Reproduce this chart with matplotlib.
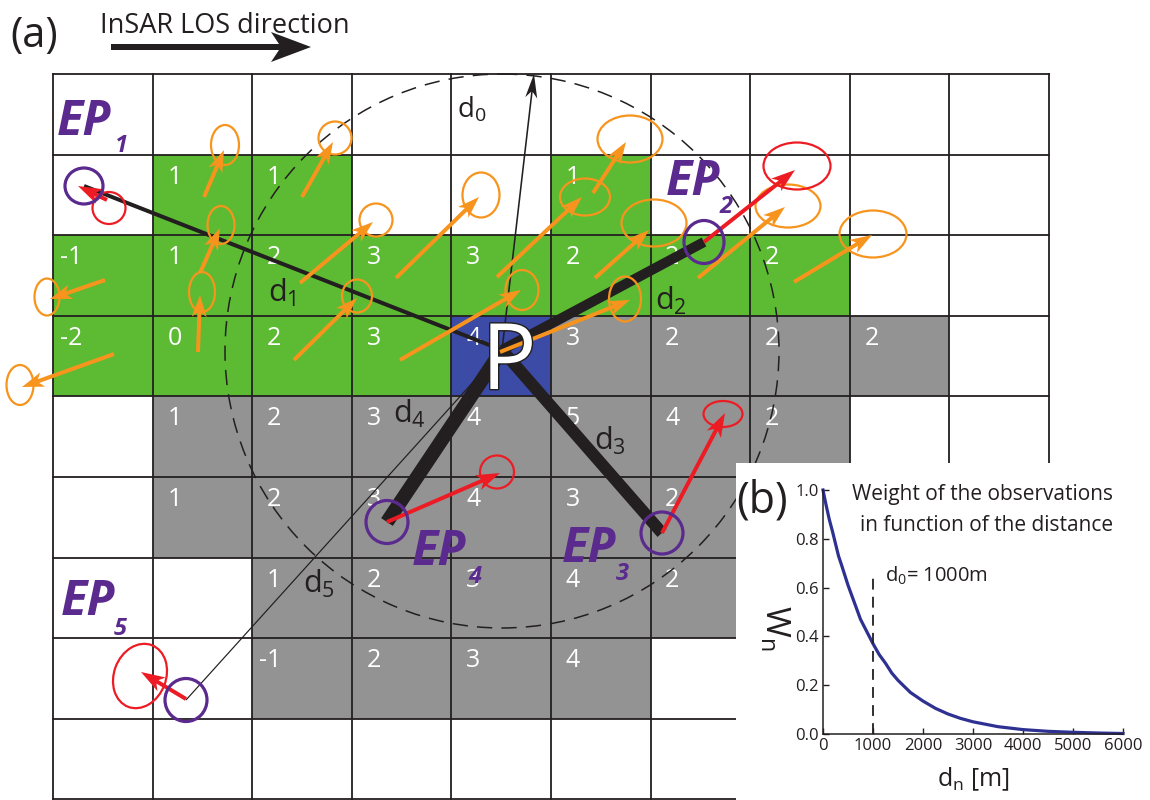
import matplotlib
matplotlib.use("Agg")
import matplotlib.pyplot as plt
import matplotlib.patches as mpatches
import matplotlib.patheffects as pe

plt.rcParams['font.family'] = ['Open Sans', 'DejaVu Sans']
plt.rcParams['mathtext.default'] = 'regular'

# ---- grid of pixels (a) ----
GRID_X0, GRID_Y0 = 53, 74
CELL_W, CELL_H = 99.6, 80.6
N_COLS, N_ROWS = 10, 9

# g = green, s = grey, b = blue (point P), w = white
cell_kind = [
    "wwwwwwwwww",
    "wggwwgwwww",
    "ggggggggww",
    "ggggbssssw",
    "wsssssssww",
    "wsssssssww",
    "wwssssssww",
    "wwsssswwww",
    "wwwwwwwwww",
]
cell_value = [
    [None] * 10,
    [None, 1, 1, None, None, 1, None, None, None, None],
    [-1, 1, 2, 3, 3, 2, 2, 2, None, None],
    [-2, 0, 2, 3, 4, 3, 2, 2, 2, None],
    [None, 1, 2, 3, 4, 5, 4, 2, None, None],
    [None, 1, 2, 3, 4, 3, 2, None, None, None],
    [None, None, 1, 2, 3, 4, 2, None, None, None],
    [None, None, -1, 2, 3, 4, None, None, None, None],
    [None] * 10,
]

# point P and neighbourhood radius
p_xy = (502, 350)
d0_radius = 277
d0_tip = (534, 74)

# external points EP1..EP5
ep_names = ["1", "2", "3", "4", "5"]
ep_xy = [(84, 186), (704, 242), (662, 533), (387, 522), (186, 700)]
ep_size = [(38, 36), (40, 43), (42, 42), (42, 43), (42, 43)]
ep_label_xy = [(57, 135), (666, 195), (562, 562), (412, 565), (61, 615)]
ep_sub_xy = [(115, 152), (720, 213), (616, 580), (468, 583), (114, 635)]
link_px = [4, 10, 12, 14, 1.2]
d_labels = ["1", "2", "3", "4", "5", "0"]
d_label_xy = [(268, 302), (655, 310), (594, 450), (393, 423), (303, 593), (457, 117)]

# displacement vectors of the EP (red) and of the pixels (orange)
red_tail = [(107, 200), (704, 242), (662, 533), (387, 522), (186, 699)]
red_head = [(78, 186), (795, 170), (725, 413), (500, 473), (141, 672)]
red_ell = [(109, 208, 33, 32, 0), (797, 166, 67, 47, 0), (723, 414, 39, 26, 0),
           (497, 472, 34, 33, 0), (140, 676, 52, 66, 21)]

orange_tail = [(105, 280), (114, 354), (204, 197), (200, 273), (198, 352), (302, 197),
               (300, 283), (294, 360), (396, 278), (400, 360), (500, 352), (497, 277),
               (593, 193), (595, 278), (698, 278), (794, 282)]
orange_head = [(50, 299), (22, 387), (224, 150), (220, 228), (200, 295), (333, 142),
               (373, 222), (357, 298), (479, 197), (521, 290), (630, 300), (582, 197),
               (626, 142), (649, 230), (785, 207), (872, 235)]
orange_ell = [(47, 297, 25, 37), (20, 385, 27, 40), (225, 145, 28, 40), (221, 225, 27, 38),
              (202, 292, 26, 40), (335, 138, 33, 33), (376, 220, 33, 33), (357, 296, 30, 33),
              (481, 195, 37, 45), (522, 290, 33, 40), (625, 299, 32, 45), (585, 197, 50, 37),
              (630, 139, 65, 47), (654, 223, 65, 47), (788, 206, 65, 43), (873, 234, 67, 47)]

# ---- weight curve (b) ----
dist_m = [0, 60, 125, 190, 250, 310, 375, 500, 625, 750, 875, 1000, 1125, 1250, 1375,
          1500, 1750, 2000, 2250, 2500, 2750, 3000, 3500, 4000, 4500, 5000, 5500, 6000]
weight = [1.0, 0.94, 0.88, 0.83, 0.78, 0.73, 0.69, 0.61, 0.54, 0.47, 0.42, 0.37, 0.325,
          0.29, 0.25, 0.22, 0.17, 0.135, 0.105, 0.082, 0.064, 0.05, 0.03, 0.018, 0.011,
          0.007, 0.004, 0.002]
x_ticks = [0, 1000, 2000, 3000, 4000, 5000, 6000]
y_ticks = [0.0, 0.2, 0.4, 0.6, 0.8, 1.0]

GREEN = "#5dbb33"
GREY = "#939393"
BLUE = "#3c4ba5"
ORANGE = "#f7941d"
RED = "#ed1c24"
PURPLE = "#5b2a8e"
INK = "#231f20"
fills = {"g": GREEN, "s": GREY, "b": BLUE}

PX = 0.72  # points per pixel at 100 dpi

fig = plt.figure(figsize=(11.5, 8), dpi=100)
ax = fig.add_axes([0, 0, 1, 1])
ax.set_xlim(0, 1150)
ax.set_ylim(800, 0)
ax.axis("off")

# cells and their values
for r in range(N_ROWS):
    for c in range(N_COLS):
        x0 = GRID_X0 + c * CELL_W
        y0 = GRID_Y0 + r * CELL_H
        k = cell_kind[r][c]
        if k in fills:
            ax.add_patch(mpatches.Rectangle((x0, y0), CELL_W, CELL_H, fc=fills[k], ec="none", zorder=1))
        v = cell_value[r][c]
        if v is not None:
            ax.text(x0 + 29, y0 + 29, str(v), color="white", fontsize=18,
                    ha="right", va="baseline", zorder=3)

for c in range(N_COLS + 1):
    x = GRID_X0 + c * CELL_W
    ax.plot([x, x], [GRID_Y0, 805], color=INK, lw=1.3, zorder=2)
for r in range(N_ROWS + 1):
    y = GRID_Y0 + r * CELL_H
    ax.plot([GRID_X0, GRID_X0 + N_COLS * CELL_W], [y, y], color=INK, lw=1.3, zorder=2)

# neighbourhood circle and d0
ax.add_patch(mpatches.Circle((p_xy[0], p_xy[1] + 1), d0_radius, fill=False, ec=INK,
                             lw=1.1, ls=(0, (10, 6)), zorder=4))
ax.add_patch(mpatches.FancyArrow(p_xy[0], p_xy[1], d0_tip[0] - p_xy[0], d0_tip[1] - p_xy[1],
                                 width=1.6, head_width=12, head_length=24, overhang=0.25,
                                 length_includes_head=True, color=INK, lw=0, zorder=4))

# distances P - EP
for (x, y), w in zip(ep_xy, link_px):
    ax.plot([x, p_xy[0]], [y, p_xy[1]], color=INK, lw=w * PX, solid_capstyle="butt", zorder=4)

for name, (x, y) in zip(d_labels, d_label_xy):
    ax.text(x, y, r"$d_{%s}$" % name, fontsize=20 if name == "0" else 22,
            color=INK, ha="left", va="baseline", zorder=6)


def vector(tail, head, color, width, hw, hl):
    ax.add_patch(mpatches.FancyArrow(tail[0], tail[1], head[0] - tail[0], head[1] - tail[1],
                                     width=width, head_width=hw, head_length=hl, overhang=0.2,
                                     length_includes_head=True, color=color, lw=0, zorder=6))


for t, h, (ex, ey, ew, eh) in zip(orange_tail, orange_head, orange_ell):
    vector(t, h, ORANGE, 4, 15, 22)
    ax.add_patch(mpatches.Ellipse((ex, ey), ew, eh, fill=False, ec=ORANGE, lw=1.6, zorder=6))

for t, h, (ex, ey, ew, eh, ang) in zip(red_tail, red_head, red_ell):
    vector(t, h, RED, 4, 16, 24)
    ax.add_patch(mpatches.Ellipse((ex, ey), ew, eh, angle=ang, fill=False, ec=RED, lw=1.6, zorder=7))

for (x, y), (w, h) in zip(ep_xy, ep_size):
    ax.add_patch(mpatches.Ellipse((x, y), w, h, fill=False, ec=PURPLE, lw=2.3, zorder=8))

for name, (lx, ly), (sx, sy) in zip(ep_names, ep_label_xy, ep_sub_xy):
    ax.text(lx, ly, "EP", color=PURPLE, fontsize=35, fontweight="bold", fontstyle="italic",
            ha="left", va="baseline", zorder=9)
    ax.text(sx, sy, name, color=PURPLE, fontsize=17, fontweight="bold", fontstyle="italic",
            ha="left", va="baseline", zorder=9)

ax.text(509, 389, "P", color="white", fontsize=66, ha="center", va="baseline", zorder=9,
        path_effects=[pe.Stroke(linewidth=2, foreground=INK), pe.Normal()])

# header
ax.text(10, 47, "(a)", fontsize=30, color=INK, ha="left", va="baseline")
ax.text(100, 33, "InSAR LOS direction", fontsize=19.5, color=INK, ha="left", va="baseline")
ax.add_patch(mpatches.FancyArrow(111, 47, 200, 0, width=6, head_width=30, head_length=40,
                                 overhang=0.2, length_includes_head=True, color=INK, lw=0))

# ---- inset (b) ----
ax.add_patch(mpatches.Rectangle((736, 463), 414, 337, fc="white", ec="none", zorder=20))
ax.text(736, 512, "(b)", fontsize=31, color=INK, ha="left", va="baseline", zorder=21)
ax.text(1113, 500, "Weight of the observations", fontsize=15, color=INK,
        ha="right", va="baseline", zorder=21)
ax.text(1113, 531, "in function of the distance", fontsize=15, color=INK,
        ha="right", va="baseline", zorder=21)
ax.text(885, 582, r"$d_0$= 1000m", fontsize=14.5, color=INK, ha="left", va="baseline", zorder=21)

ax2 = fig.add_axes([823 / 1150, 66 / 800, 300 / 1150, 244 / 800])
ax2.set_facecolor("none")
ax2.plot(dist_m, weight, color="#2e3192", lw=2.3, clip_on=False)
ax2.plot([1000, 1000], [0, 0.64], color=INK, lw=1.3, dashes=(6, 4))
ax2.set_xlim(0, 6000)
ax2.set_ylim(0, 1)
ax2.set_xticks(x_ticks)
ax2.set_yticks(y_ticks)
ax2.set_yticklabels(["%.1f" % v for v in y_ticks])
ax2.tick_params(direction="in", length=4, width=1, labelsize=12, pad=3, colors=INK)
for s in ["top", "right"]:
    ax2.spines[s].set_visible(False)
for s in ["left", "bottom"]:
    ax2.spines[s].set_color(INK)
    ax2.spines[s].set_linewidth(1.1)
ax2.set_xlabel(r"$d_n$ [m]", fontsize=18, color=INK)
ax2.xaxis.set_label_coords(0.5, -0.13)
ax2.set_ylabel(r"$W_n$", fontsize=24, color=INK, rotation=270, va="center", ha="center")
ax2.yaxis.set_label_coords(-0.163, 0.434)

fig.savefig("out.png", dpi=100)
